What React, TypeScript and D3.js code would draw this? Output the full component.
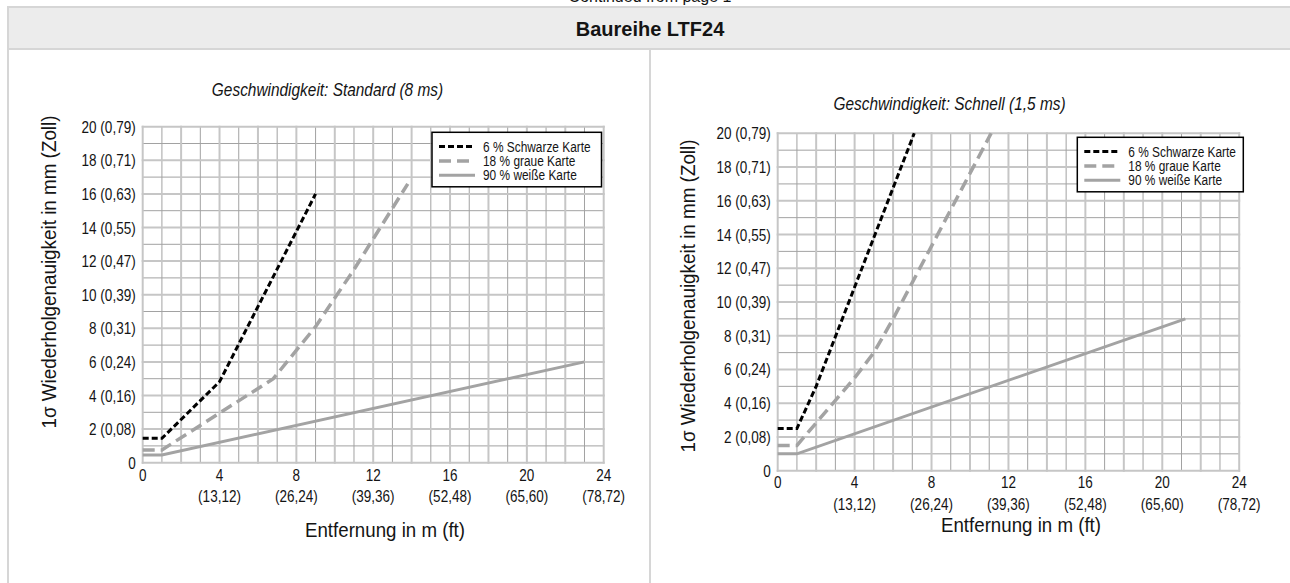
import React from 'react';
import * as d3 from 'd3';

// axis ticks
const xTickValues = [0, 4, 8, 12, 16, 20, 24];
const xTickFeet = ['', '(13,12)', '(26,24)', '(39,36)', '(52,48)', '(65,60)', '(78,72)'];
const yTickValues = [0, 2, 4, 6, 8, 10, 12, 14, 16, 18, 20];
const yTickInches = ['', '(0,08)', '(0,16)', '(0,24)', '(0,31)', '(0,39)', '(0,47)', '(0,55)', '(0,63)', '(0,71)', '(0,79)'];

const seriesNames = ['6 % Schwarze Karte', '18 % graue Karte', '90 % weiße Karte'];

// Standard (8 ms): [distance m, repeatability mm]
const standardBlack = [[0, 1.45], [1, 1.45], [4, 4.82], [9, 16.0]];
const standardGrey = [[0, 0.76], [1, 0.76], [6.8, 5.0], [9, 8.1], [11, 11.5], [13.8, 16.6]];
const standardWhite = [[0, 0.46], [1, 0.46], [23, 6.0]];

// Schnell (1,5 ms)
const fastBlack = [[0, 2.5], [1, 2.5], [2, 5.0], [7.1, 20]];
const fastGrey = [[0, 1.5], [1, 1.5], [4, 5.5], [5, 7.0], [6, 9.0], [11.1, 20]];
const fastWhite = [[0, 1.0], [1, 1.0], [21.2, 9.0]];

const FONT = "'Liberation Sans', Arial, Helvetica, sans-serif";
const NX = 0.82; // narrow font look
const INK = '#141414';

const seriesStyle = [
  { stroke: '#000', width: 3, dash: '6,3' },
  { stroke: '#a3a3a3', width: 3.5, dash: '12,6' },
  { stroke: '#a3a3a3', width: 3, dash: undefined },
];

const NText = ({ x, y, size, anchor = 'start', italic = false, children }) => (
  <text
    transform={`translate(${x},${y}) scale(${NX},1)`}
    fontSize={size}
    fontFamily={FONT}
    fontStyle={italic ? 'italic' : 'normal'}
    textAnchor={anchor}
    fill={INK}
  >
    {children}
  </text>
);

const Chart = ({ cfg, series }) => {
  const x = d3.scaleLinear().domain([0, 24]).range([cfg.left, cfg.left + cfg.width]);
  const y = d3.scaleLinear().domain([0, 20]).range([cfg.top + cfg.height, cfg.top]);
  const line = d3.line().x((d) => x(d[0])).y((d) => y(d[1]));

  const gridX = d3.range(0, 25);
  const gridY = d3.range(0, 21);
  const minorX = gridX.filter((v) => v % 2 === 1);
  const majorX = gridX.filter((v) => v % 2 === 0);
  const minorY = gridY.filter((v) => v % 2 === 1);
  const majorY = gridY.filter((v) => v % 2 === 0);

  const lg = cfg.legend;

  return (
    <g>
      <NText x={cfg.titleX} y={cfg.titleY} size={18.8} anchor="middle" italic>
        {cfg.title}
      </NText>

      {/* grid */}
      <g>
        {minorX.map((v) => (
          <line key={'mx' + v} x1={x(v)} x2={x(v)} y1={y(0)} y2={y(20)} stroke="#a2a2a2" strokeWidth={1} />
        ))}
        {minorY.map((v) => (
          <line key={'my' + v} x1={x(0)} x2={x(24)} y1={y(v)} y2={y(v)} stroke="#a2a2a2" strokeWidth={1} />
        ))}
        {majorX.map((v) => (
          <line key={'Mx' + v} x1={x(v)} x2={x(v)} y1={y(0) + 1} y2={y(20) - 1} stroke="#c6c6c6" strokeWidth={2} />
        ))}
        {majorY.map((v) => (
          <line key={'My' + v} x1={x(0) - 1} x2={x(24) + 1} y1={y(v)} y2={y(v)} stroke="#c6c6c6" strokeWidth={2} />
        ))}
      </g>

      {/* y ticks */}
      {yTickValues.map((v, i) => (
        <NText key={'yt' + v} x={x(0) - 7} y={y(v) + 6} size={16.5} anchor="end">
          {yTickInches[i] ? `${v} ${yTickInches[i]}` : `${v}`}
        </NText>
      ))}

      {/* x ticks */}
      {xTickValues.map((v, i) => (
        <g key={'xt' + v}>
          <NText x={x(v)} y={y(0) + cfg.tick1} size={16.5} anchor="middle">
            {v}
          </NText>
          {xTickFeet[i] && (
            <NText x={x(v)} y={y(0) + cfg.tick2} size={16.5} anchor="middle">
              {xTickFeet[i]}
            </NText>
          )}
        </g>
      ))}

      {/* axis titles */}
      <text
        transform={`translate(${cfg.yTitleX},${cfg.yTitleCY}) rotate(-90)`}
        fontSize={20}
        fontFamily={FONT}
        textAnchor="middle"
        textLength={313}
        lengthAdjust="spacingAndGlyphs"
        fill={INK}
      >
        1σ Wiederholgenauigkeit in mm (Zoll)
      </text>
      <text
        x={cfg.xTitleCX}
        y={cfg.xTitleY}
        fontSize={21}
        fontFamily={FONT}
        textAnchor="middle"
        textLength={160}
        lengthAdjust="spacingAndGlyphs"
        fill={INK}
      >
        Entfernung in m (ft)
      </text>

      {/* series */}
      {series.map((s, i) => (
        <path
          key={'s' + i}
          d={line(s)}
          fill="none"
          stroke={seriesStyle[i].stroke}
          strokeWidth={seriesStyle[i].width}
          strokeDasharray={seriesStyle[i].dash}
        />
      ))}

      {/* legend */}
      <rect x={lg.x} y={lg.y} width={lg.w} height={lg.h} fill="#fff" stroke="#000" strokeWidth={1.5} />
      {seriesNames.map((name, i) => {
        const by = lg.y + 19.3 + i * 14.3;
        return (
          <g key={'lg' + i}>
            <line
              x1={lg.x + 7}
              x2={lg.x + 43}
              y1={by - 5}
              y2={by - 5}
              stroke={seriesStyle[i].stroke}
              strokeWidth={seriesStyle[i].width}
              strokeDasharray={seriesStyle[i].dash}
            />
            <NText x={lg.x + 51} y={by} size={14.5}>
              {name}
            </NText>
          </g>
        );
      })}
    </g>
  );
};

const leftCfg = {
  title: 'Geschwindigkeit: Standard (8 ms)',
  titleX: 327.5,
  titleY: 96,
  left: 142.7,
  top: 126.7,
  width: 461,
  height: 336,
  tick1: 18.7,
  tick2: 39.5,
  yTitleX: 56,
  yTitleCY: 272,
  xTitleCX: 385,
  xTitleY: 536.7,
  legend: { x: 432, y: 132.3, w: 169.5, h: 54.5 },
};

const rightCfg = {
  title: 'Geschwindigkeit: Schnell (1,5 ms)',
  titleX: 949.5,
  titleY: 110,
  left: 777.7,
  top: 133.3,
  width: 461.5,
  height: 337.4,
  tick1: 17.6,
  tick2: 39.5,
  yTitleX: 695,
  yTitleCY: 296,
  xTitleCX: 1021,
  xTitleY: 532,
  legend: { x: 1077.3, y: 137.3, w: 166, h: 54.5 },
};

export default function App() {
  return (
    <svg
      width={1290}
      height={583}
      style={{ position: 'absolute', left: 0, top: 0, background: '#fff' }}
    >
      <rect x={0} y={0} width={1290} height={583} fill="#fff" />
      <text x={650} y={2} fontSize={16} fontFamily={FONT} textAnchor="middle" fill={INK}>
        Continued from page 1
      </text>
      <rect x={8} y={7} width={1290} height={42} fill="#ececec" stroke="#d6d6d6" strokeWidth={2} />
      <text x={650} y={35.5} fontSize={20} fontWeight="bold" fontFamily={FONT} textAnchor="middle" fill={INK}>
        Baureihe LTF24
      </text>
      <line x1={8} x2={8} y1={49} y2={583} stroke="#d6d6d6" strokeWidth={2} />
      <line x1={650} x2={650} y1={49} y2={583} stroke="#d6d6d6" strokeWidth={2} />

      <Chart cfg={leftCfg} series={[standardBlack, standardGrey, standardWhite]} />
      <Chart cfg={rightCfg} series={[fastBlack, fastGrey, fastWhite]} />
    </svg>
  );
}
